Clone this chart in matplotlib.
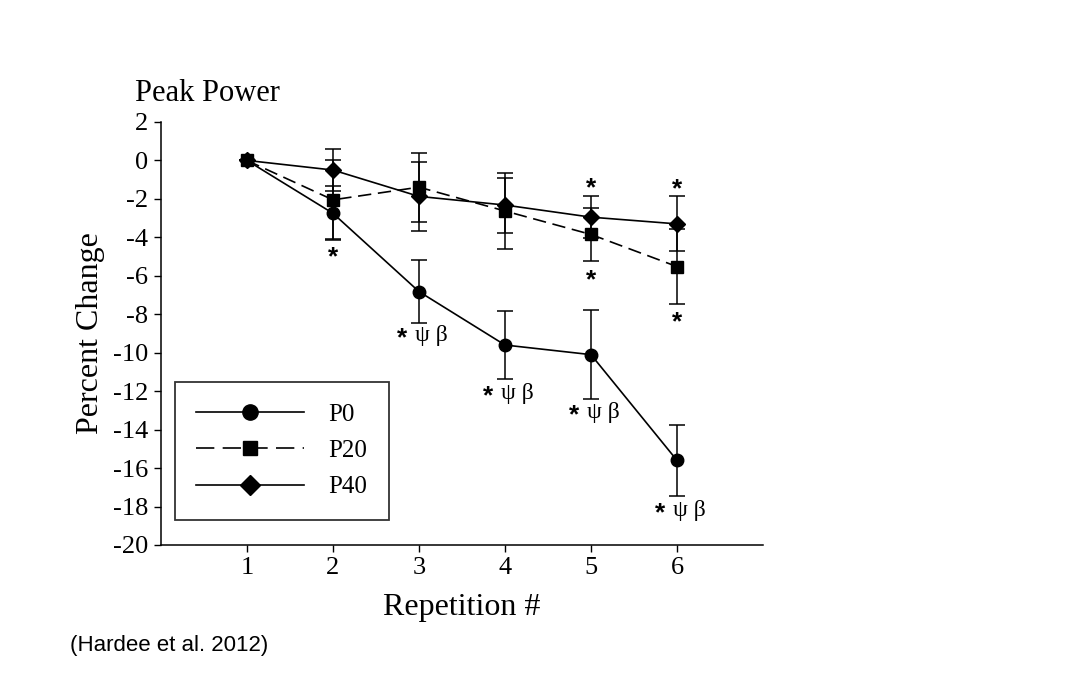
import matplotlib.pyplot as plt
from matplotlib.lines import Line2D

# Dados (variação percentual da potência de pico)
repeticoes = [1, 2, 3, 4, 5, 6]
p0 = [0, -2.75, -6.82, -9.6, -10.1, -15.6]
p0_err = [0, 1.4, 1.65, 1.75, 2.3, 1.85]
p20 = [0, -2.05, -1.39, -2.63, -3.85, -5.52]
p20_err = [0, 2.05, 1.8, 2.0, 1.4, 1.95]
p40 = [0, -0.5, -1.87, -2.32, -2.95, -3.3]
p40_err = [0, 1.1, 1.8, 1.43, 1.1, 1.43]

# anotações de significância
ast_x = [2, 5, 6, 5, 6]
ast_y = [-4.9, -1.3, -1.35, -6.1, -8.3]
psi_x = [3, 4, 5, 6]
psi_y = [-9.1, -12.1, -13.1, -18.2]

plt.rcParams["font.family"] = ["Liberation Serif", "DejaVu Serif"]
plt.rcParams["axes.unicode_minus"] = False

fig = plt.figure(figsize=(10.8, 6.75), dpi=100)
ax = fig.add_axes([0.149, 0.1926, 0.5575, 0.6267])

estilo = dict(color="black", linewidth=1.2, elinewidth=1.1, capsize=6, capthick=1.1)
ax.errorbar(repeticoes, p0, yerr=p0_err, marker="o", markersize=9,
            linestyle="-", **estilo)
ax.errorbar(repeticoes, p20, yerr=p20_err, marker="s", markersize=8,
            linestyle=(0, (8, 4)), **estilo)
ax.errorbar(repeticoes, p40, yerr=p40_err, marker="D", markersize=8,
            linestyle="-", **estilo)

ast_fonte = dict(fontsize=19, fontweight="bold", family=["Liberation Sans", "DejaVu Sans"])
for x, y in zip(ast_x, ast_y):
    ax.annotate("*", (x, y), xytext=(0, -2), textcoords="offset points",
                ha="center", va="center", **ast_fonte)
for x, y in zip(psi_x, psi_y):
    ax.annotate("*", (x, y), xytext=(-12, -2), textcoords="offset points",
                ha="center", va="center", **ast_fonte)
    ax.annotate("\u03c8 \u03b2", (x, y), xytext=(-3, 0), textcoords="offset points",
                ha="left", va="center", fontsize=17)

ax.set_xlim(0, 7)
ax.set_ylim(-20, 2)
ax.set_xticks(repeticoes)
ax.set_yticks(range(-20, 3, 2))
ax.tick_params(labelsize=19, length=5, width=1, direction="out", pad=4)
for s in ["top", "right"]:
    ax.spines[s].set_visible(False)
for s in ["left", "bottom"]:
    ax.spines[s].set_linewidth(1.1)

ax.set_xlabel("Repetition #", fontsize=23, labelpad=10)
ax.set_ylabel("Percent Change", fontsize=23, labelpad=6)
fig.text(0.125, 0.862, "Peak Power", fontsize=22, ha="left", va="center")

# legenda sem barras de erro
handles = [
    Line2D([], [], color="black", lw=1.2, marker="o", markersize=11, linestyle="-"),
    Line2D([], [], color="black", lw=1.2, marker="s", markersize=10, linestyle=(0, (11, 5))),
    Line2D([], [], color="black", lw=1.2, marker="D", markersize=10, linestyle="-"),
]
leg = ax.legend(handles, ["P0", "P20", "P40"], loc="upper left",
                bbox_to_anchor=(0.023, 0.385), borderaxespad=0,
                fontsize=18, handlelength=4.3, handletextpad=1.0,
                labelspacing=0.55, borderpad=0.85, fancybox=False, frameon=True)
leg.get_frame().set_edgecolor("black")
leg.get_frame().set_linewidth(1.3)

fig.text(0.065, 0.044, "(Hardee et al. 2012)", fontsize=16, ha="left", va="center",
         family=["Liberation Sans", "DejaVu Sans"])

fig.savefig("out.png", dpi=100)
plt.close()
